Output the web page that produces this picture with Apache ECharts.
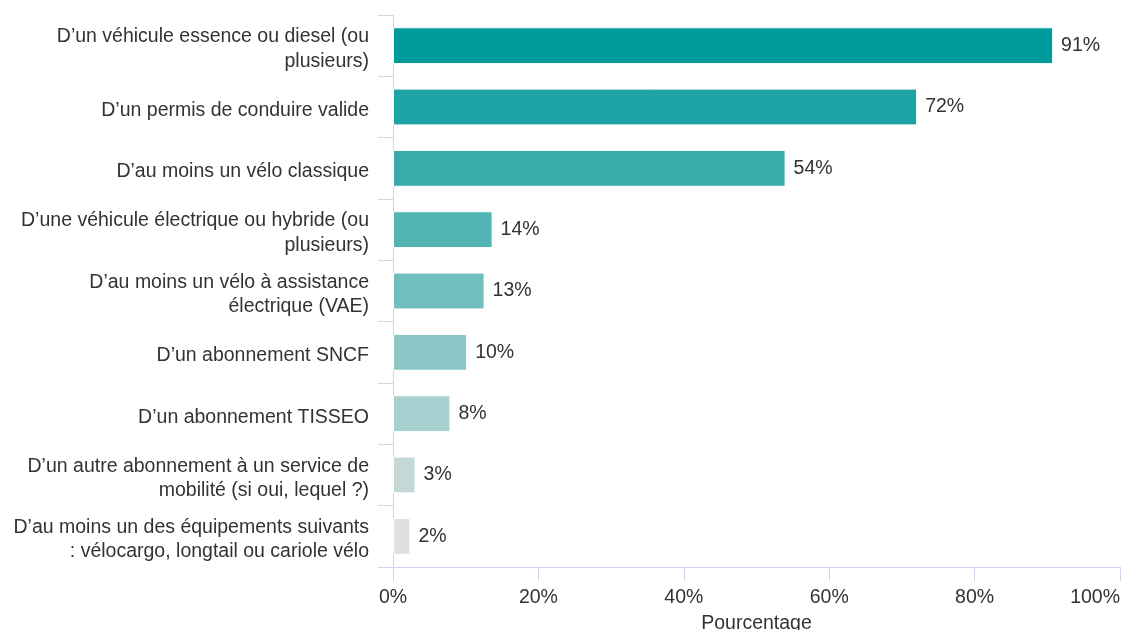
<!DOCTYPE html>
<html>
<head>
<meta charset="utf-8">
<script src="https://cdn.jsdelivr.net/npm/echarts@6/dist/echarts.min.js"></script>
<style>
  html, body { margin: 0; padding: 0; background: #fff; }
  #chart { width: 1122px; height: 630px; }
</style>
</head>
<body>
<div id="chart"></div>
<script>
// libellés des équipements (retours à la ligne comme sur l'original)
const categories = [
  "D’un véhicule essence ou diesel (ou\nplusieurs)",
  "D’un permis de conduire valide",
  "D’au moins un vélo classique",
  "D’une véhicule électrique ou hybride (ou\nplusieurs)",
  "D’au moins un vélo à assistance\nélectrique (VAE)",
  "D’un abonnement SNCF",
  "D’un abonnement TISSEO",
  "D’un autre abonnement à un service de\nmobilité (si oui, lequel ?)",
  "D’au moins un des équipements suivants\n: vélocargo, longtail ou cariole vélo"
];
const values = [90.8, 72.1, 54.0, 13.7, 12.6, 10.2, 7.9, 3.1, 2.4];
const barColors = [
  "#009b9b", "#1ea4a4", "#3aabab", "#53b4b4", "#70bebe",
  "#8cc7c7", "#a8d0d0", "#c4d8d8", "#e0e0e0"
];
const xTicks = [0, 20, 40, 60, 80, 100];

const axisColor = "#ccd6eb";
const textColor = "#333333";
const font = "Liberation Sans, Arial, sans-serif";
const fs = 19.5;

const chart = echarts.init(document.getElementById("chart"));
chart.setOption({
  animation: false,
  textStyle: { fontFamily: font },
  grid: {
    left: 393, right: 2, top: 15, bottom: 63,
    containLabel: false, outerBoundsMode: "none"
  },
  xAxis: {
    type: "value",
    min: xTicks[0],
    max: xTicks[xTicks.length - 1],
    interval: 20,
    name: "Pourcentage",
    nameLocation: "middle",
    nameGap: 47,
    nameTextStyle: { color: textColor, fontSize: fs, fontFamily: font },
    axisLine: { show: true, lineStyle: { color: axisColor, width: 1 } },
    axisTick: { show: true, length: 14, lineStyle: { color: axisColor } },
    axisLabel: {
      color: textColor, fontSize: fs, margin: 21, fontFamily: font,
      alignMaxLabel: "right",
      formatter: "{value}%"
    },
    splitLine: { show: false }
  },
  yAxis: {
    type: "category",
    inverse: true,
    data: categories,
    axisLine: { show: true, lineStyle: { color: axisColor, width: 1 } },
    axisTick: { show: true, length: 15, lineStyle: { color: axisColor } },
    axisLabel: {
      color: textColor, fontSize: fs, margin: 24, lineHeight: 24.5,
      fontFamily: font, align: "right",
      // ligne vide en tête -> texte un peu plus bas, comme l'original
      formatter: v => "{s| }\n" + v.split("\n").map(l => "{t|" + l + "}").join("\n"),
      rich: {
        s: { fontSize: 1, lineHeight: 7 },
        t: { fontSize: fs, lineHeight: 24.5, color: textColor, fontFamily: font }
      }
    },
    splitLine: { show: false }
  },
  series: [{
    type: "bar",
    data: values.map((v, i) => ({ value: v, itemStyle: { color: barColors[i] } })),
    barCategoryGap: "40%",
    itemStyle: { borderColor: "#ffffff", borderWidth: 1 },
    label: {
      show: true,
      position: "right",
      distance: 8,
      color: textColor,
      fontSize: fs,
      fontFamily: font,
      formatter: p => Math.round(p.value) + "%"
    }
  }]
});
</script>
</body>
</html>
